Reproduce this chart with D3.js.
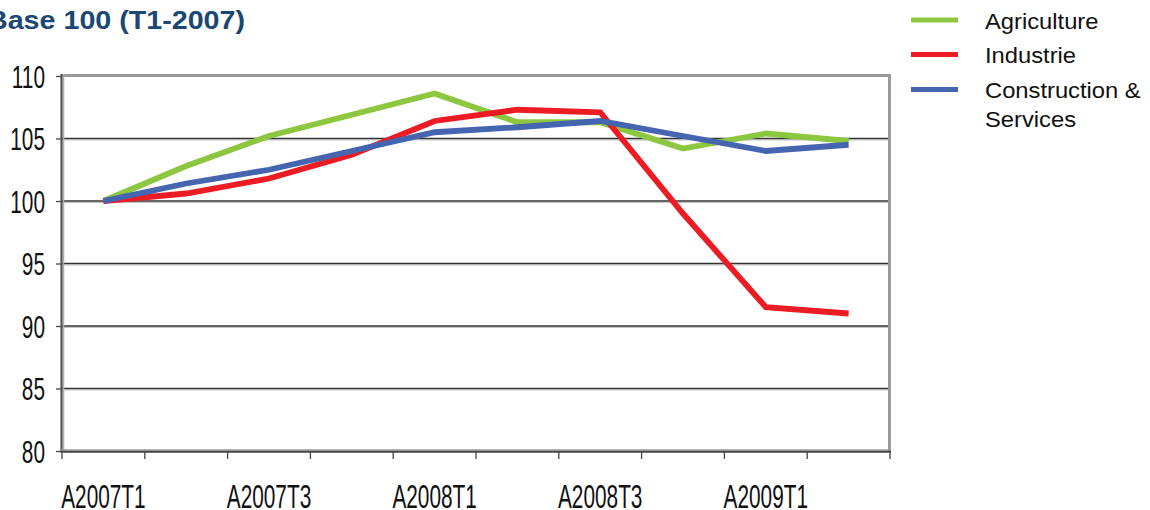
<!DOCTYPE html>
<html>
<head>
<meta charset="utf-8">
<script src="https://cdn.jsdelivr.net/npm/d3@7"></script>
<style>
  body { margin: 0; background: #fff; }
  svg { display: block; }
</style>
</head>
<body>
<svg id="chart"></svg>
<script>
const width = 1150;
const height = 510;
const svg = d3.select("svg#chart");
svg.attr("width", width).attr("height", height);

// Data
const quarters = ["A2007T1", "A2007T2", "A2007T3", "A2007T4", "A2008T1",
                  "A2008T2", "A2008T3", "A2008T4", "A2009T1", "A2009T2"];
const agriculture  = [100, 102.8, 105.2, 106.9, 108.6, 106.3, 106.3, 104.2, 105.4, 104.8];
const industrie    = [100, 100.6, 101.8, 103.7, 106.4, 107.3, 107.1, 99.0, 91.5, 91.0];
const construction = [100, 101.4, 102.5, 104.0, 105.5, 105.9, 106.4, 105.2, 104.0, 104.5];
const yTicks = [80, 85, 90, 95, 100, 105, 110];
const seriesNames = ["Agriculture", "Industrie", "Construction &\nServices"];
const seriesColors = ["#8dc63f", "#ed1c24", "#4565b0"];

const series = [agriculture, industrie, construction].map((vals, i) => ({
  name: seriesNames[i],
  color: seriesColors[i],
  values: vals.map((v, j) => ({ q: quarters[j], v: v }))
}));

//Define plot margin
const margin = { top: 76, bottom: 59, left: 62, right: 260 };

const x = d3.scaleBand()
  .domain(quarters)
  .range([margin.left, width - margin.right]);

const y = d3.scaleLinear()
  .domain([80, 110])
  .range([height - margin.bottom, margin.top]);

const labelFont = "'Liberation Sans', Arial, sans-serif";

// Title (top line of the original is cropped)
svg.append("text")
  .attr("x", -13)
  .attr("y", 28.5)
  .attr("textLength", 258)
  .attr("lengthAdjust", "spacingAndGlyphs")
  .style("font-family", labelFont)
  .style("font-weight", "bold")
  .style("font-size", "26px")
  .style("fill", "#1b4773")
  .text("Base 100 (T1-2007)");

// Gridlines
const grid = svg.append("g").attr("id", "grid");
grid.selectAll("line.shadow")
  .data(yTicks.filter(t => t > 80 && t < 110))
  .enter().append("line")
    .attr("class", "shadow")
    .attr("x1", margin.left).attr("x2", width - margin.right)
    .attr("y1", d => y(d) + 1.5).attr("y2", d => y(d) + 1.5)
    .style("stroke", "#c4c4c4").style("stroke-width", 1);
grid.selectAll("line.main")
  .data(yTicks.filter(t => t > 80 && t < 110))
  .enter().append("line")
    .attr("class", "main")
    .attr("x1", margin.left).attr("x2", width - margin.right)
    .attr("y1", d => y(d)).attr("y2", d => y(d))
    .style("stroke", "#333").style("stroke-width", 1.4);

// Top and right frame
svg.append("path")
  .attr("d", `M${margin.left},${y(110) - 0.5}H${x.range()[1] - 0.5}V${y(80)}`)
  .style("fill", "none")
  .style("stroke", "#9a9a9a")
  .style("stroke-width", 3);

// Y axis
const yAxis = svg.append("g").attr("id", "yAxis")
  .attr("transform", `translate(${margin.left},0)`)
  .call(d3.axisLeft(y).tickValues(yTicks).tickSize(6).tickFormat(""));
yAxis.select(".domain").remove();
yAxis.selectAll(".tick line").style("stroke", "#444").style("stroke-width", 1.3);
svg.append("line")
  .attr("x1", margin.left + 1.5).attr("x2", margin.left + 1.5)
  .attr("y1", y(110) - 2).attr("y2", y(80))
  .style("stroke", "#b0b0b0").style("stroke-width", 1.5);
svg.append("line")
  .attr("x1", margin.left - 0.5).attr("x2", margin.left - 0.5)
  .attr("y1", y(110) - 2).attr("y2", y(80))
  .style("stroke", "#555").style("stroke-width", 2.2);

svg.append("g").attr("id", "yLabels")
  .selectAll("g")
  .data(yTicks)
  .enter().append("g")
    .attr("transform", d => `translate(45,${y(d) + 11.5})`)
  .append("text")
    .attr("transform", "scale(0.8,1.23)")
    .attr("text-anchor", "end")
    .style("font-family", labelFont)
    .style("font-size", "26px")
    .style("fill", "#111")
    .text(d => d);

// X axis
const bounds = quarters.map(q => x(q)).concat([x.range()[1]]);
svg.append("g").attr("id", "xTicks")
  .selectAll("line")
  .data(bounds)
  .enter().append("line")
    .attr("x1", d => d).attr("x2", d => d)
    .attr("y1", y(80)).attr("y2", y(80) + 8)
    .style("stroke", "#444").style("stroke-width", 1.3);
svg.append("line")
  .attr("x1", margin.left - 1.6).attr("x2", x.range()[1] + 1)
  .attr("y1", y(80) - 1).attr("y2", y(80) - 1)
  .style("stroke", "#9a9a9a").style("stroke-width", 1.5);
svg.append("line")
  .attr("x1", margin.left - 1.6).attr("x2", x.range()[1] + 1)
  .attr("y1", y(80) + 0.8).attr("y2", y(80) + 0.8)
  .style("stroke", "#444").style("stroke-width", 2);

svg.append("g").attr("id", "xLabels")
  .selectAll("g")
  .data(quarters.filter((q, i) => i % 2 == 0))
  .enter().append("g")
    .attr("transform", d => `translate(${x(d) + x.bandwidth() / 2},507.5)`)
  .append("text")
    .attr("transform", "scale(0.8,1.28)")
    .attr("text-anchor", "middle")
    .style("font-family", labelFont)
    .style("font-size", "26px")
    .style("fill", "#111")
    .text(d => d);

// Lines
const line = d3.line()
  .x(d => x(d.q) + x.bandwidth() / 2)
  .y(d => y(d.v));

svg.append("g").attr("id", "lines")
  .selectAll("path")
  .data(series)
  .enter().append("path")
    .attr("d", d => line(d.values))
    .style("fill", "none")
    .style("stroke", d => d.color)
    .style("stroke-width", 5.8)
    .style("stroke-linejoin", "miter");

// Legend
const legendY = [20, 54.5, 89.5];
const legend = svg.append("g").attr("id", "legend")
  .selectAll("g")
  .data(series)
  .enter().append("g")
    .attr("transform", (d, i) => `translate(0,${legendY[i]})`);
legend.append("line")
  .attr("x1", 911).attr("x2", 958)
  .attr("y1", 0).attr("y2", 0)
  .style("stroke", d => d.color)
  .style("stroke-width", 5);
const legendText = legend.append("text")
  .attr("transform", "translate(985,8.5) scale(1.08,1)")
  .style("font-family", labelFont)
  .style("font-size", "22px")
  .style("fill", "#111");
legendText.selectAll("tspan")
  .data(d => d.name.split("\n"))
  .enter().append("tspan")
    .attr("x", 0)
    .attr("dy", (d, i) => i == 0 ? 0 : 29.5)
    .text(d => d);
</script>
</body>
</html>
